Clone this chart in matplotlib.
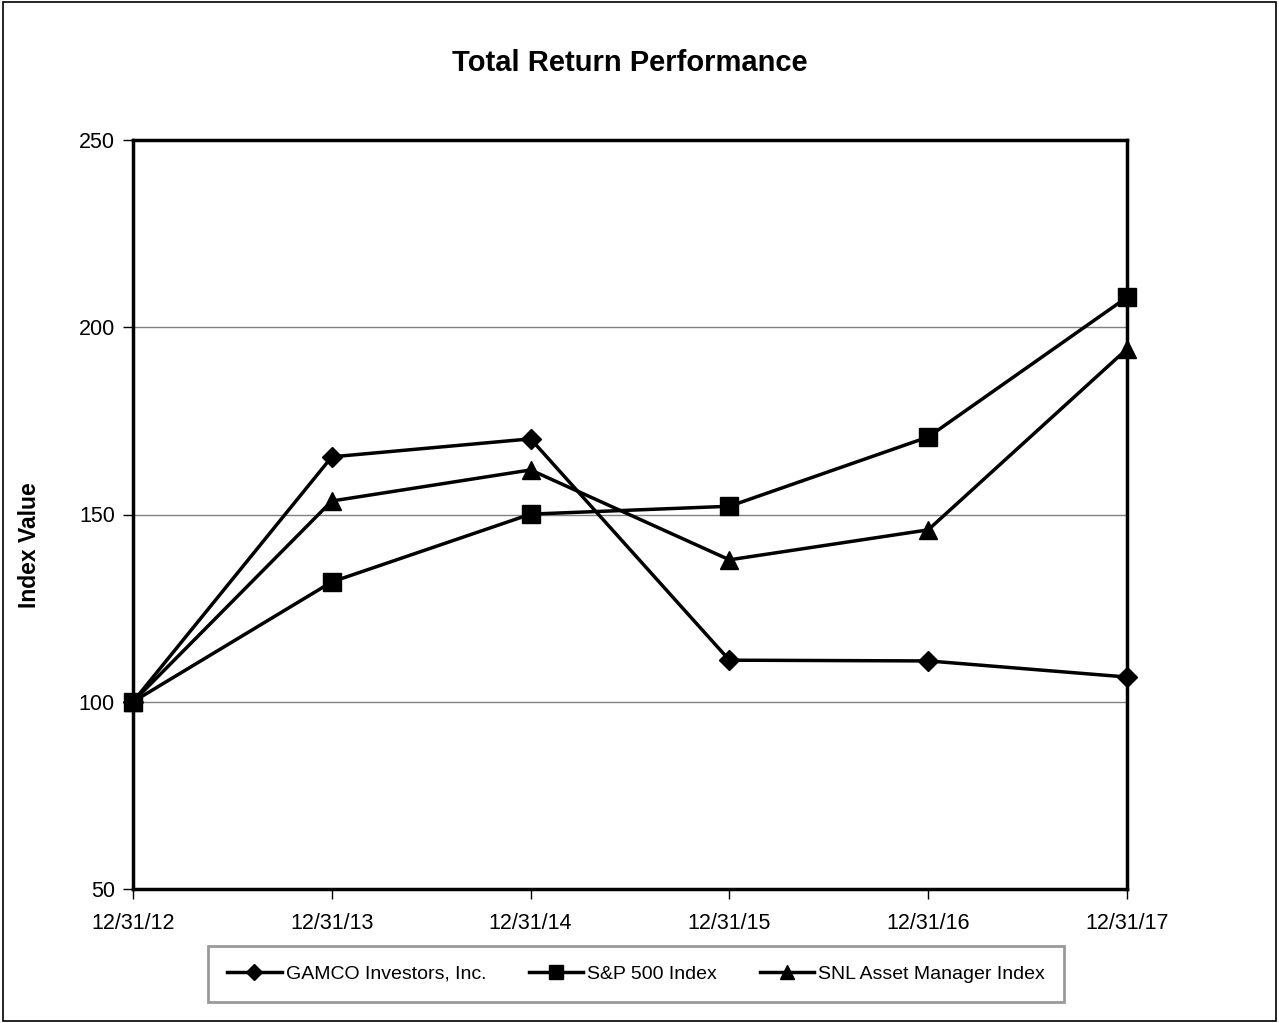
import matplotlib.pyplot as plt

# Data
dates = ['12/31/12', '12/31/13', '12/31/14', '12/31/15', '12/31/16', '12/31/17']
gamco = [100, 165.4, 170.2, 111.1, 110.9, 106.6]
sp500 = [100, 132.0, 150.1, 152.2, 170.7, 208.0]
snl = [100, 153.6, 161.9, 137.9, 145.9, 194.2]

font = 'Liberation Sans'

fig = plt.figure(figsize=(12.79, 10.23), dpi=100)
ax = fig.add_axes([133 / 1279, 1 - 889 / 1023, (1127 - 133) / 1279, (889 - 140) / 1023])

x = range(len(dates))
ax.plot(x, gamco, color='black', lw=2.5, marker='D', ms=10, clip_on=False, zorder=3,
        label='GAMCO Investors, Inc.')
ax.plot(x, sp500, color='black', lw=2.5, marker='s', ms=13, clip_on=False, zorder=3,
        label='S&P 500 Index')
ax.plot(x, snl, color='black', lw=2.5, marker='^', ms=13, clip_on=False, zorder=3,
        label='SNL Asset Manager Index')

ax.set_xlim(0, len(dates) - 1)
ax.set_ylim(50, 250)
ax.set_yticks([50, 100, 150, 200, 250])
ax.set_xticks(list(x))
ax.set_xticklabels(dates)
ax.yaxis.grid(True, color='#808080', lw=1)
ax.set_axisbelow(True)
for s in ax.spines.values():
    s.set_linewidth(2.5)
ax.tick_params(axis='both', direction='out', length=7, width=1, labelsize=15.5)
ax.tick_params(axis='x', pad=10)
ax.tick_params(axis='y', pad=6)
for lab in ax.get_xticklabels() + ax.get_yticklabels():
    lab.set_family(font)

fig.text(630 / 1279, 1 - 63 / 1023, 'Total Return Performance', ha='center', va='center',
         fontsize=21, fontweight='bold', family=font)
fig.text(30 / 1279, 1 - 545 / 1023, 'Index Value', rotation=90, ha='center', va='center',
         fontsize=16.5, fontweight='bold', family=font)

leg = fig.legend(loc='center', bbox_to_anchor=(636 / 1279, 1 - 974 / 1023),
                 ncol=3, frameon=True, fancybox=False, handlelength=2.8, handletextpad=0.2,
                 columnspacing=2.2, prop={'family': font, 'size': 14}, markerscale=0.8,
                 borderpad=1.0)
leg.get_frame().set_edgecolor('#808080')
leg.get_frame().set_linewidth(2)

# outer border
fig.patches.append(plt.Rectangle((0.002, 0.002), 0.996, 0.996, transform=fig.transFigure,
                                 fill=False, edgecolor='black', lw=1.2))

fig.savefig('out.png', dpi=100)
